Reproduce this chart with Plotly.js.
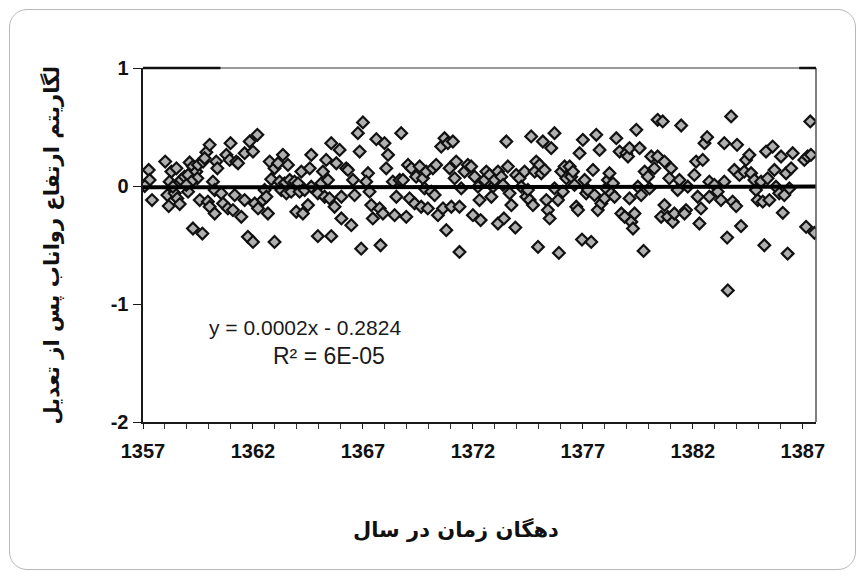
<!DOCTYPE html>
<html>
<head>
<meta charset="utf-8">
<script src="https://cdn.plot.ly/plotly-3.0.1.min.js"></script>
<style>
  html, body { margin: 0; padding: 0; background: #ffffff; }
  #frame { position: absolute; left: 9px; top: 9px; width: 847px; height: 561px;
           border: 1.5px solid #b8b8b8; border-radius: 18px; box-sizing: border-box; }
  #chart { position: absolute; left: 0; top: 0; width: 865px; height: 578px; }
</style>
</head>
<body>
<div id="frame"></div>
<div id="chart"></div>
<script>
// Scatter points: time (year, dekad-based) and adjusted log runoff depth
const timeX = [
  1357.26,1357.30,1357.08,1357.41,1358.01,1358.29,1358.52,1358.21,1358.11,1358.17,1358.44,1358.56,1358.67,1358.36,
  1358.74,1358.89,1359.05,1359.12,1359.27,1359.42,1359.50,1359.47,1359.20,1359.05,1358.97,
  1359.73,1359.88,1360.03,1359.80,1360.18,1360.33,1360.38,1360.26,1359.58,1359.95,1360.03,1360.26,1359.27,1359.70,
  1360.79,1360.98,1360.94,1361.24,1361.32,1361.62,1361.85,1362.00,1362.20,1360.56,1360.64,1360.86,1361.09,1361.17,
  1361.47,1361.62,1361.77,1362.00,1362.08,1362.23,1362.45,
  1362.76,1362.83,1362.98,1363.14,1363.36,1363.59,1363.21,1363.44,1363.67,1363.89,1364.05,1363.29,1363.52,1363.74,
  1364.12,1364.35,1362.53,1362.61,1362.68,1362.98,1363.97,1364.27,1364.50,1364.20,1364.58,1364.65,1364.65,
  1365.18,1365.11,1365.33,1364.95,1365.26,1365.48,1365.41,1365.56,1365.94,1365.79,1365.71,1366.02,1366.02,1366.47,
  1364.95,1365.56,1366.24,1366.32,1366.55,1366.62,1366.77,1366.85,1367.00,1367.23,1367.15,1367.30,1367.38,1367.45,
  1367.61,1367.76,1367.91,1367.98,1368.14,1368.06,1366.92,1367.80,1368.36,1368.44,1368.52,1368.67,1368.74,1368.82,
  1368.97,1369.05,1369.20,1369.12,1369.35,1369.42,1369.58,1369.65,1369.73,1369.80,1369.88,1369.95,1370.11,1370.18,
  1370.26,1370.33,1370.41,1370.56,1370.71,1370.64,1370.86,1371.09,1370.79,1370.94,1371.02,1371.17,1371.24,1371.39,
  1371.47,1371.39,1371.62,1371.77,1371.92,1372.00,1372.08,1372.23,1372.30,1372.35,
  1372.53,1372.61,1372.76,1372.91,1372.84,1372.99,1373.14,1373.29,1373.37,1373.52,1373.59,1373.67,1373.75,
  1373.14,1373.41,1373.93,1373.97,1374.12,1374.20,1374.35,1374.43,1374.50,1374.58,1374.65,1374.73,1374.81,1374.88,
  1375.03,1375.11,1375.26,1375.18,1375.34,1375.41,1375.49,1375.56,1375.71,1375.71,1375.87,1376.02,1376.09,1376.17,
  1376.25,1376.40,1376.47,1376.55,1376.62,1376.70,1376.78,1374.96,1375.91,1376.85,1377.00,1376.96,1377.08,1377.15,
  1377.23,1377.38,1377.46,1377.53,1377.61,1377.68,1377.76,1377.84,1377.99,1378.06,1378.14,1378.21,1378.29,1378.37,
  1378.44,1378.52,1378.67,1378.75,1378.90,1378.97,1379.05,1379.12,1379.12,1379.20,1379.28,1379.35,1379.43,1379.50,
  1379.58,1379.65,1379.81,1379.76,1379.96,1380.03,1380.11,
  1380.25,1380.40,1380.63,1381.47,1383.74,1387.34,1380.40,1380.71,1381.01,1380.93,1381.39,1381.31,1381.77,1382.07,
  1382.15,1382.45,1382.53,1382.65,1382.75,1382.98,1383.13,1383.43,1383.43,1384.01,1383.28,1383.81,1383.97,1383.89,
  1384.12,1384.34,1384.42,1384.57,1384.65,1384.80,1384.87,1384.95,1385.10,1385.18,1385.33,1385.40,1385.48,1385.63,
  1385.71,1385.78,1385.93,1386.01,1386.16,1386.24,1386.39,1386.47,1386.54,1387.07,1387.22,1387.37,
  1380.71,1380.56,1380.86,1381.09,1381.16,1381.69,1381.62,1382.37,1382.30,1382.22,1382.75,1383.56,1384.19,1385.25,
  1386.09,1386.31,1383.59,1387.15,1387.53
];
const logRunoff = [
  0.136,0.051,0.000,-0.119,0.207,0.122,0.150,0.037,-0.077,-0.170,-0.062,-0.105,-0.153,-0.006,
  0.051,0.079,0.094,0.199,0.165,0.122,0.179,0.065,0.037,-0.048,0.009,
  0.207,0.287,0.349,0.235,0.037,0.207,0.150,-0.034,-0.119,-0.133,-0.176,-0.233,-0.360,-0.403,
  0.264,0.363,0.221,0.207,0.193,0.278,0.377,0.292,0.434,-0.062,-0.148,-0.190,-0.204,-0.077,
  -0.261,-0.119,-0.431,-0.474,-0.148,-0.190,-0.119,
  0.207,0.057,0.150,0.193,0.264,0.179,0.037,0.023,0.051,0.037,0.023,-0.034,-0.062,-0.048,
  -0.048,-0.034,-0.034,-0.091,-0.233,-0.474,-0.218,-0.233,-0.162,0.122,0.150,0.264,-0.006,
  0.122,0.023,0.221,-0.062,-0.091,-0.105,0.051,0.363,0.306,0.193,-0.176,-0.091,-0.275,-0.332,
  -0.425,-0.425,0.150,0.136,0.051,-0.077,0.448,0.292,0.539,0.108,0.037,-0.048,-0.162,-0.275,
  0.397,-0.190,-0.233,0.363,0.264,0.150,-0.531,-0.502,0.037,-0.247,-0.091,0.051,0.448,0.051,
  -0.261,0.179,0.150,-0.105,-0.148,0.079,0.165,-0.176,0.065,-0.020,0.122,-0.190,-0.048,0.150,
  -0.077,0.179,-0.247,0.334,0.405,-0.190,0.363,0.377,-0.374,0.150,-0.176,0.065,0.207,-0.176,
  -0.020,-0.559,0.122,0.179,0.165,-0.247,0.079,-0.006,-0.119,-0.289,
  0.051,0.122,0.094,-0.006,-0.091,0.051,0.122,0.079,0.009,0.377,0.165,-0.062,-0.162,
  -0.318,-0.275,-0.352,0.094,0.065,-0.006,0.122,-0.091,-0.034,-0.119,0.420,-0.162,0.122,0.207,
  0.179,0.108,0.136,0.377,-0.119,-0.204,-0.275,0.321,0.448,-0.020,-0.119,0.122,-0.048,0.165,
  0.065,0.165,0.079,0.122,0.009,-0.176,-0.204,-0.516,-0.567,0.278,0.391,-0.454,0.051,-0.062,
  -0.034,-0.474,0.136,-0.077,0.434,-0.204,0.306,-0.148,-0.105,-0.020,0.051,0.108,-0.062,0.023,
  -0.091,0.405,0.292,-0.233,-0.261,0.278,0.250,0.321,-0.105,-0.304,-0.360,-0.233,0.476,-0.006,
  0.321,-0.077,0.122,-0.550,0.079,-0.020,0.250,
  0.150,0.561,0.547,0.513,0.590,0.547,0.250,0.207,0.150,0.065,0.051,-0.034,-0.006,0.094,
  0.207,0.221,0.363,0.414,0.037,0.009,-0.048,0.037,0.363,0.349,-0.119,-0.133,-0.170,0.136,
  0.094,0.122,0.221,0.264,0.108,0.051,-0.034,-0.119,0.037,-0.133,0.292,0.065,-0.119,0.334,
  0.136,-0.006,-0.062,0.250,-0.077,0.108,-0.020,0.150,0.278,0.221,0.250,0.264,
  -0.162,-0.261,-0.261,-0.304,-0.233,-0.204,-0.233,-0.190,-0.318,-0.091,-0.091,-0.437,-0.340,-0.502,
  -0.227,-0.573,-0.885,-0.346,-0.397
];
// Linear trend reported on the chart
const trendSlope = 0.0002;
const trendIntercept = -0.2824;
const trendX = [1357, 1387.6];
const trendY = trendX.map(x => trendSlope * x + trendIntercept);

const xTickVals = [1357, 1362, 1367, 1372, 1377, 1382, 1387];
const xTickText = ["1357", "1362", "1367", "1372", "1377", "1382", "1387"];
const yTickVals = [1, 0, -1, -2];
const yTickText = ["1", "0", "-1", "-2"];

const xTitle = "دهگان زمان در سال";
const yTitle = "لگاریتم ارتفاع رواناب پس از تعدیل";
const eqLine1 = "y = 0.0002x - 0.2824";
const eqLine2 = "R² = 6E-05";

const traces = [
  {
    x: timeX, y: logRunoff, type: 'scatter', mode: 'markers',
    marker: { symbol: 'diamond', size: 9, color: '#b0b0b0', line: { color: '#111111', width: 2.2 } },
    hoverinfo: 'skip', showlegend: false
  },
  {
    x: trendX, y: trendY, type: 'scatter', mode: 'lines',
    line: { color: '#000000', width: 4 }, hoverinfo: 'skip', showlegend: false
  }
];

const tickFont = { size: 20, family: 'Liberation Sans Narrow, Liberation Sans, Arial, sans-serif', color: '#111', weight: 'bold' };

const layout = {
  width: 865, height: 578,
  paper_bgcolor: 'rgba(0,0,0,0)', plot_bgcolor: '#ffffff',
  margin: { l: 143, r: 49, t: 68, b: 156 },
  font: { family: 'Liberation Sans, Arial, sans-serif', color: '#1a1a1a' },
  xaxis: {
    range: [1357, 1387.6], tickvals: xTickVals, ticktext: xTickText,
    showgrid: false, zeroline: false, showline: true, linecolor: '#1a1a1a', linewidth: 2,
    ticks: 'outside', ticklen: 5, tickwidth: 1, tickcolor: '#1a1a1a', ticklabelstandoff: 5,
    minor: { dtick: 1, tick0: 1357, ticks: 'outside', ticklen: 5, tickwidth: 1, tickcolor: '#333', showgrid: false },
    tickfont: tickFont, fixedrange: true
  },
  yaxis: {
    range: [-2, 1], tickvals: yTickVals, ticktext: yTickText,
    showgrid: false, zeroline: false, showline: true, linecolor: '#1a1a1a', linewidth: 2.5,
    ticks: 'outside', ticklen: 8, tickwidth: 1, tickcolor: '#1a1a1a',
    tickfont: tickFont, fixedrange: true
  },
  shapes: [
    { type: 'line', xref: 'paper', yref: 'paper', x0: 0, x1: 1, y0: 1, y1: 1, line: { color: '#777', width: 1.5 } },
    { type: 'line', xref: 'paper', yref: 'paper', x0: 1, x1: 1, y0: 0, y1: 1, line: { color: '#555', width: 1.5 } },
    { type: 'line', xref: 'paper', yref: 'paper', x0: 0, x1: 0.115, y0: 1, y1: 1, line: { color: '#111', width: 2.5 } },
    { type: 'line', xref: 'paper', yref: 'paper', x0: 0.975, x1: 1, y0: 1, y1: 1, line: { color: '#111', width: 2.5 } }
  ],
  annotations: [
    { text: eqLine1, x: 1364.35, y: -1.2, xref: 'x', yref: 'y', showarrow: false,
      font: { size: 21, family: 'Liberation Sans, Arial, sans-serif', color: '#1a1a1a' } },
    { text: eqLine2, x: 1365.45, y: -1.44, xref: 'x', yref: 'y', showarrow: false,
      font: { size: 23, family: 'Liberation Sans, Arial, sans-serif', color: '#1a1a1a' } },
    { text: xTitle, xref: 'paper', yref: 'paper', showarrow: false,
      font: { size: 21, family: 'DejaVu Sans, Noto Sans, sans-serif', color: '#111', weight: 'bold' } },
    { text: yTitle, xref: 'paper', yref: 'paper', showarrow: false, textangle: -90,
      font: { size: 21, family: 'DejaVu Sans, Noto Sans, sans-serif', color: '#111', weight: 'bold' } }
  ]
};
// place titles in pixel terms relative to plot area
(function () {
  const L = 143, T = 68, pw = 865 - 143 - 49, ph = 578 - 68 - 156;
  const px = v => (v - L) / pw, py = v => (T + ph - v) / ph;
  const a = layout.annotations[2]; a.x = px(456); a.y = py(544);
  const b = layout.annotations[3]; b.x = px(36); b.y = py(245);
})();

Plotly.newPlot('chart', traces, layout, { displayModeBar: false, staticPlot: true });
</script>
</body>
</html>
